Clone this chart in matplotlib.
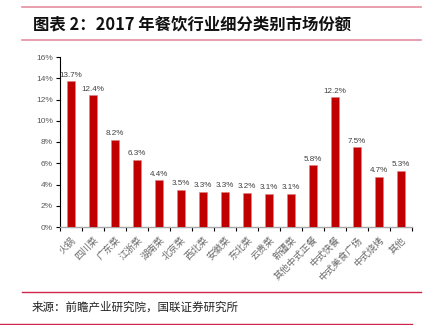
import matplotlib
matplotlib.use("Agg")
import matplotlib.pyplot as plt
from matplotlib.lines import Line2D
from matplotlib.ticker import FuncFormatter
import matplotlib.transforms as mtransforms

plt.rcParams['font.family'] = ['Noto Sans CJK SC', 'DejaVu Sans']

categories = ["火锅", "四川菜", "广东菜", "江浙菜", "湖南菜", "北京菜", "西北菜", "安徽菜",
              "东北菜", "云贵菜", "新疆菜", "其他中式正餐", "中式快餐", "中式美食广场",
              "中式烧烤", "其他"]
shares = [13.7, 12.4, 8.2, 6.3, 4.4, 3.5, 3.3, 3.3, 3.2, 3.1, 3.1, 5.8, 12.2, 7.5, 4.7, 5.3]
y_ticks = [0, 2, 4, 6, 8, 10, 12, 14, 16]

title = "图表 2：2017 年餐饮行业细分类别市场份额"
source = "来源：前瞻产业研究院，国联证券研究所"

fig = plt.figure(figsize=(4.32, 3.25), dpi=100)
ax = fig.add_axes([60 / 432, 1 - 227 / 325, 352 / 432, 170 / 325])

x = list(range(len(categories)))
ax.bar(x, shares, width=0.32, color="#C00000", edgecolor="#E08080", linewidth=0.4, zorder=3)

for xi, v in zip(x, shares):
    ax.text(xi, v + 0.25, f"{v:.1f}%", ha="center", va="bottom", fontsize=5.8,
            color="#404040", family=["Liberation Sans", "DejaVu Sans"])

ax.set_xlim(-0.5, len(categories) - 0.5)
ax.set_ylim(0, 16)
ax.set_yticks(y_ticks)
ax.yaxis.set_major_formatter(FuncFormatter(lambda v, p: f"{v:.0f}%"))
for lab in ax.get_yticklabels():
    lab.set_family(["Liberation Sans", "DejaVu Sans"])
ax.tick_params(axis="y", labelsize=6, labelcolor="#595959", color="#000000",
               length=3, width=0.8, pad=2)

# category boundary ticks on the x axis, labels centred under each bar
ax.set_xticks([i - 0.5 for i in range(len(categories) + 1)])
ax.set_xticklabels([])
ax.tick_params(axis="x", length=3, width=0.8, color="#000000")
ax.set_xticks(x, minor=True)
ax.set_xticklabels(categories, minor=True, rotation=45, ha="right", va="top",
                   fontsize=6.8, color="#6A6A6A")
ax.tick_params(axis="x", which="minor", length=0, pad=6)
shift = mtransforms.ScaledTranslation(7 / 100, 0, fig.dpi_scale_trans)
for lab in ax.get_xticklabels(minor=True):
    lab.set_transform(lab.get_transform() + shift)

for s in ["top", "right"]:
    ax.spines[s].set_visible(False)
ax.spines["left"].set_color("#000000")
ax.spines["left"].set_linewidth(0.8)
ax.spines["bottom"].set_color("#A6A6A6")
ax.spines["bottom"].set_linewidth(1.0)

# header and footer rules
def hline(y, x0, x1, color, lw):
    fig.add_artist(Line2D([x0 / 432, x1 / 432], [1 - y / 325, 1 - y / 325],
                          color=color, linewidth=lw))

hline(7, 22, 421, "#E58FA3", 1.2)
hline(39.5, 22, 421, "#E58FA3", 1.2)
hline(292, 22, 421, "#D0244C", 1.0)
hline(323.5, 0, 412, "#D0244C", 1.0)

fig.text(33 / 432, 1 - 24 / 325, title, fontsize=11.8, fontweight="bold",
         ha="left", va="center", color="#111111")
fig.text(32 / 432, 1 - 307 / 325, source, fontsize=8.3, ha="left", va="center",
         color="#222222")

fig.savefig("out.png", dpi=100)
